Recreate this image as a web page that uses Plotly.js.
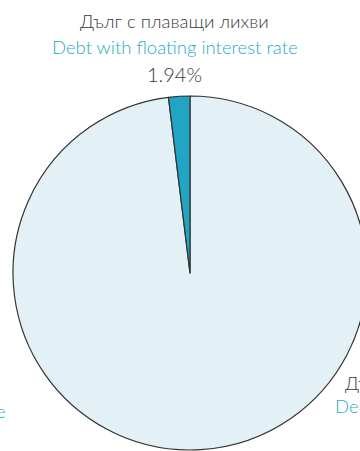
<!DOCTYPE html>
<html>
<head>
<meta charset="utf-8">
<script src="https://cdn.plot.ly/plotly-3.0.1.min.js"></script>
<style>
html,body{margin:0;padding:0;overflow:hidden;background:#fff;width:360px;height:451px;}
#chart{width:370px;height:451px;}
</style>
</head>
<body>
<div id="chart"></div>
<script>
const categories = ["Дълг с фиксирани лихви", "Дълг с плаващи лихви"];
const categoriesEn = ["Debt with fixed interest rate", "Debt with floating interest rate"];
const values = [98.06, 1.94];
const valueLabels = ["98.06%", "1.94%"];
const sliceColors = ["#e3f0f5", "#22a5c3"];

const W = 370, H = 451;
const fontFam = "Lato, 'Open Sans', sans-serif";
const grey = "#3a3a3a", teal = "#2aa9c8";

function px(x){return x / W;}
function py(y){return 1 - y / H;}

const data = [{
  type: "pie",
  labels: categories,
  values: values,
  sort: false,
  direction: "counterclockwise",
  rotation: 0,
  marker: {colors: sliceColors, line: {color: "#333333", width: 1.2}},
  textinfo: "none",
  hoverinfo: "label+percent",
  domain: {x: [px(13), px(367)], y: [py(450), py(96)]},
  showlegend: false
}];

function ann(text, x, y, color, anchor, size){
  return {text: text, x: px(x), y: py(y), xref: "paper", yref: "paper",
    xanchor: anchor, yanchor: "middle", showarrow: false,
    font: {family: fontFam, size: size || 18.5, color: color, weight: 300}};
}

const layout = {
  width: W, height: H,
  margin: {l: 0, r: 0, t: 0, b: 0},
  paper_bgcolor: "#ffffff",
  annotations: [
    ann(categories[1], 174, 21, grey, "center"),
    ann(categoriesEn[1], 175, 47, teal, "center"),
    ann(valueLabels[1], 174, 74, grey, "center", 20),
    ann(categories[0], 343, 383, grey, "left"),
    ann(categoriesEn[0], 333, 406, teal, "left"),
    ann(categoriesEn[0], 8, 411, teal, "right")
  ]
};

Plotly.newPlot("chart", data, layout, {staticPlot: true});
</script>
</body>
</html>
